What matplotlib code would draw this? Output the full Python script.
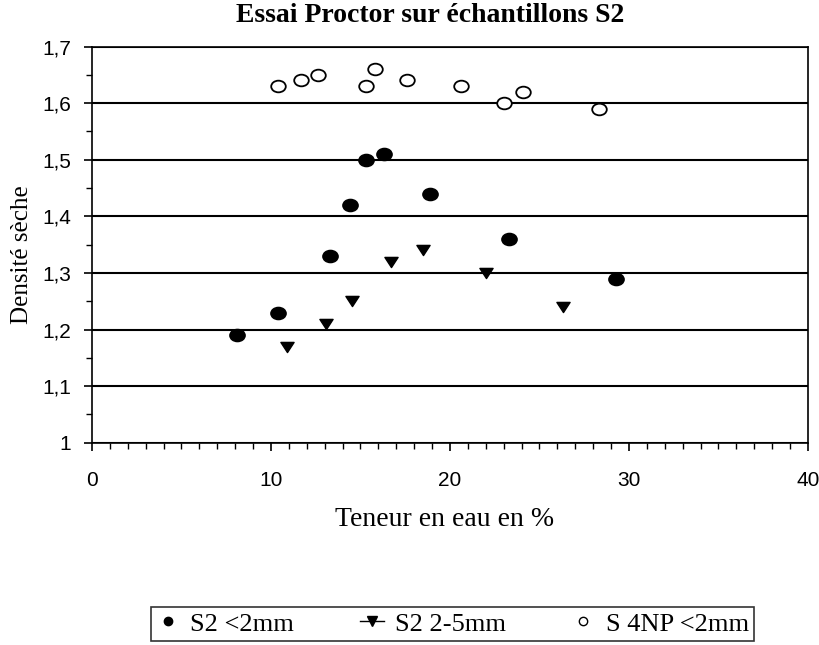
import matplotlib
matplotlib.use('Agg')
import matplotlib.pyplot as plt
from matplotlib.lines import Line2D
from matplotlib.path import Path
from matplotlib.transforms import Affine2D
import matplotlib.ticker as mtick

# données
x_s2_fin = [8.1, 10.4, 13.3, 14.4, 15.3, 16.3, 18.9, 23.3, 29.3]
y_s2_fin = [1.19, 1.23, 1.33, 1.42, 1.50, 1.51, 1.44, 1.36, 1.29]

x_s2_gros = [10.9, 13.1, 14.5, 16.7, 18.5, 22.0, 26.3]
y_s2_gros = [1.17, 1.21, 1.25, 1.32, 1.34, 1.30, 1.24]

x_s4np = [10.4, 11.7, 12.6, 15.3, 15.8, 17.6, 20.6, 23.0, 24.1, 28.3]
y_s4np = [1.63, 1.64, 1.65, 1.63, 1.66, 1.64, 1.63, 1.60, 1.62, 1.59]

noms = ['S2 <2mm', 'S2 2-5mm', 'S 4NP <2mm']

serif = 'Liberation Serif'
sans = 'Liberation Sans'

# marqueurs un peu plus larges que hauts (comme sur le scan)
ellipse = Path.unit_circle().transformed(Affine2D().scale(1.25, 1.0))
triangle = Path([(-0.65, 0.5), (0.65, 0.5), (0.0, -0.5), (-0.65, 0.5)],
                [Path.MOVETO, Path.LINETO, Path.LINETO, Path.CLOSEPOLY])

fig = plt.figure(figsize=(8.19, 6.45), dpi=100)
ax = fig.add_axes([0.1123, 0.3136, 0.8742, 0.6143])

ax.plot(x_s2_fin, y_s2_fin, ls='none', marker=ellipse, ms=11,
        color='black', zorder=3)
ax.plot(x_s2_gros, y_s2_gros, ls='none', marker=triangle, ms=9.5,
        color='black', zorder=3)
ax.plot(x_s4np, y_s4np, ls='none', marker=ellipse, ms=10.5, mfc='white',
        mec='black', mew=1.3, zorder=3)

ax.set_xlim(0, 40)
ax.set_ylim(1.0, 1.7)

ax.xaxis.set_major_locator(mtick.MultipleLocator(10))
ax.xaxis.set_minor_locator(mtick.MultipleLocator(1))
ax.yaxis.set_major_locator(mtick.MultipleLocator(0.1))
ax.yaxis.set_minor_locator(mtick.MultipleLocator(0.05))
ax.yaxis.set_major_formatter(
    mtick.FuncFormatter(lambda v, p: ('%g' % round(v, 2)).replace('.', ',')))

ax.tick_params(which='major', direction='out', length=6, width=1.2,
               color='black')
ax.tick_params(which='minor', direction='out', length=4, width=1,
               color='black')
ax.tick_params(axis='x', which='major', pad=14)
ax.tick_params(axis='y', which='major', pad=9)
for lab in ax.get_xticklabels() + ax.get_yticklabels():
    lab.set_fontfamily(sans)
    lab.set_fontsize(15)

ax.grid(axis='y', which='major', color='black', lw=1.5)
for sp in ax.spines.values():
    sp.set_color('black')
    sp.set_linewidth(1.2)

# titres
fig.text(0.525, 0.9767, 'Essai Proctor sur échantillons S2', ha='center',
         va='center', family=serif, fontsize=20, fontweight='bold')
fig.text(0.543, 1 - 519 / 645, 'Teneur en eau en %', ha='center',
         va='center', family=serif, fontsize=20)
fig.text(0.027, 1 - 255 / 645, 'Densité sèche', ha='center', va='center',
         rotation=90, family=serif, fontsize=18)

# légende en bas
poignees = [
    Line2D([], [], ls='none', marker='o', ms=6, color='black'),
    Line2D([], [], ls='-', lw=1, marker='v', ms=7, color='black'),
    Line2D([], [], ls='none', marker='o', ms=6, mfc='white', mec='black'),
]
leg = fig.legend(poignees, noms, loc='center', ncol=3,
                 bbox_to_anchor=(0.5525, 0.0326), frameon=True,
                 fancybox=False, prop={'family': serif, 'size': 19},
                 handlelength=0.9, columnspacing=2.5, handletextpad=0.4,
                 borderpad=0.2, borderaxespad=0, edgecolor='black')
leg.get_frame().set_linewidth(1.2)

fig.savefig('out.png', dpi=100)
